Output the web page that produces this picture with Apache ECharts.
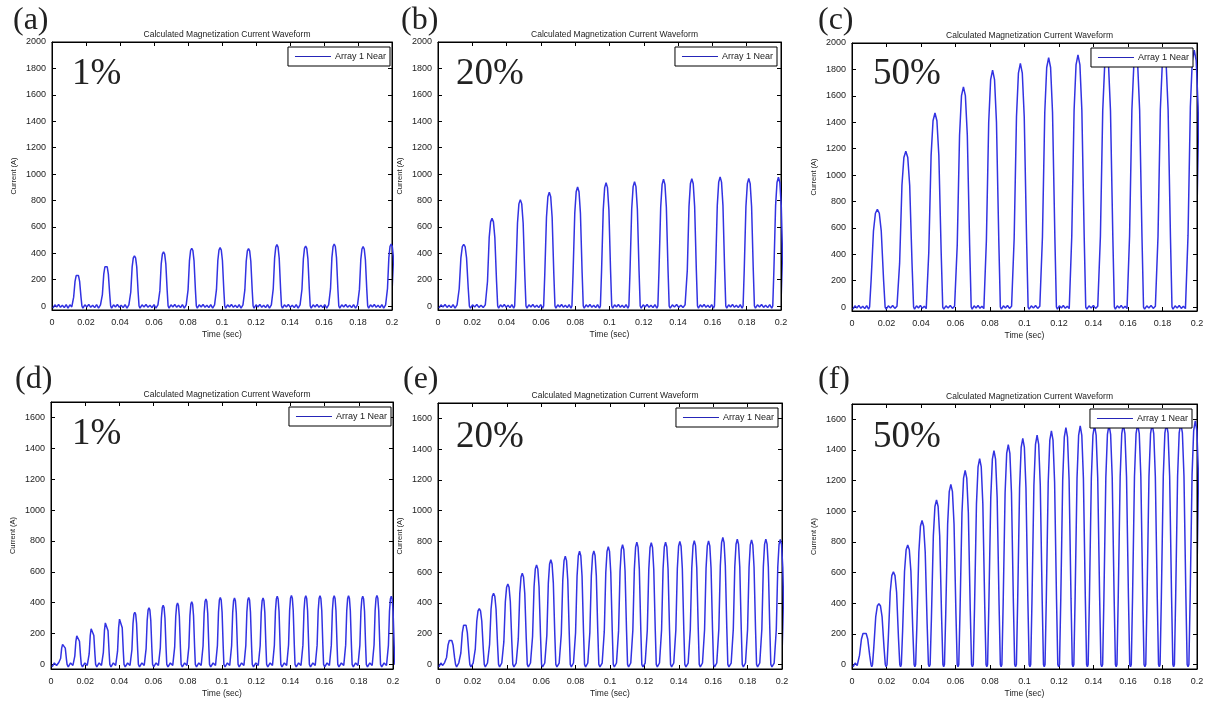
<!DOCTYPE html>
<html><head><meta charset="utf-8">
<script src="https://cdn.jsdelivr.net/npm/echarts@6/dist/echarts.min.js"></script>
<style>html,body{margin:0;padding:0;background:#fff}#c{width:1207px;height:704px}</style>
</head><body><div id="c"></div>
<script>
// ---------- data ----------
const xTickValues = [0,0.02,0.04,0.06,0.08,0.1,0.12,0.14,0.16,0.18,0.2];
const yTicksTop = [0,200,400,600,800,1000,1200,1400,1600,1800,2000];
const yTicksBottom = [0,200,400,600,800,1000,1200,1400,1600];
const panelLetters = ['(a)','(b)','(c)','(d)','(e)','(f)'];
const dutyLabels = ['1%','20%','50%','1%','20%','50%'];
const chartTitle = 'Calculated Magnetization Current Waveform';
const seriesName = 'Array 1 Near';
const xName = 'Time (sec)';
const yName = 'Current (A)';

// pulse peak times (s) and peak currents (A)
const timesA = [0.0149,0.0318,0.0485,0.0656,0.0822,0.0989,0.1156,0.1323,0.1492,0.1660,0.1830,0.1995];
const peaksA = [240,310,380,410,438,442,435,465,455,470,450,470];
const timesB = [0.0150,0.0315,0.0480,0.0649,0.0814,0.0980,0.1146,0.1315,0.1480,0.1645,0.1812,0.1985];
const peaksB = [468,664,806,862,902,934,942,960,965,978,966,975];
const timesC = [0.0147,0.0312,0.0481,0.0646,0.0815,0.0976,0.1140,0.1310,0.1476,0.1645,0.1810,0.1984];
const peaksC = [740,1180,1470,1668,1795,1845,1890,1910,1905,1910,1915,1945];
const timesBottom = [0.0073,0.0156,0.0240,0.0323,0.0406,0.0490,0.0573,0.0656,0.0740,0.0823,0.0906,0.0990,
                     0.1073,0.1156,0.1240,0.1323,0.1406,0.1490,0.1573,0.1656,0.1740,0.1823,0.1906,0.1990];
const peaksD = [135,192,240,280,305,338,366,383,398,405,424,434,430,434,430,441,447,445,445,445,445,441,447,441];
const peaksE = [162,265,362,462,522,592,647,680,703,736,738,766,778,794,792,795,800,805,803,825,814,810,815,812];
const peaksF = [210,397,604,780,939,1074,1175,1267,1343,1396,1435,1476,1497,1525,1545,1557,1560,1565,1568,1570,1570,1572,1575,1590];

// pulse half-widths at the base (s), read per panel
const halfWidths = [0.0027,0.0033,0.0045,0.0021,0.0029,0.0037];
// normalised pulse outline read from a single pulse (offset in half-widths, fraction of peak)
const profileX = [-1,-0.8,-0.5,-0.25,0,0.25,0.5,0.8,1];
const profileY = [0,0.28,0.78,0.96,1,0.96,0.78,0.28,0];
// baseline ripple between pulses (A)
const ripple = [-16,9,-7,12,-10,6,-12,10];

// ---------- build series ----------
function buildWave(times, peaks, hw){
  const pts = [];
  let prevEnd = 0;
  times.forEach((t,i)=>{
    const start = t - hw;
    const gap = start - prevEnd;
    const n = Math.max(1, Math.floor(gap/0.0011));
    for(let k=0;k<n;k++){ pts.push([prevEnd + gap*(k+0.5)/n, ripple[k % ripple.length]]); }
    for(let k=0;k<profileX.length;k++){ pts.push([t+profileX[k]*hw, peaks[i]*profileY[k]]); }
    prevEnd = t + hw;
  });
  pts.push([0.21,0]);
  return pts;
}
const waves = [
  buildWave(timesA,peaksA,halfWidths[0]),
  buildWave(timesB,peaksB,halfWidths[1]),
  buildWave(timesC,peaksC,halfWidths[2]),
  buildWave(timesBottom,peaksD,halfWidths[3]),
  buildWave(timesBottom,peaksE,halfWidths[4]),
  buildWave(timesBottom,peaksF,halfWidths[5])
];

// ---------- layout ----------
const grids = [
  {left:52, top:42, width:340, height:268},
  {left:438,top:42, width:343, height:268},
  {left:852,top:43, width:345, height:268},
  {left:51, top:402,width:342, height:267},
  {left:438,top:403,width:344, height:266},
  {left:852,top:404,width:345, height:265}
];
const legendRight = [817,430,14,816,429,15];
const letterPos = [[13,5],[401,5],[818,5],[15,364],[403,364],[818,364]];
const dutyPos = [[72,56],[456,56],[873,56],[72,416],[456,419],[873,419]];

const FONT = '"Liberation Sans", Arial, sans-serif';
const SERIF = '"Liberation Serif", "Times New Roman", serif';
const LINE = '#3232e2';

const option = {
  animation:false,
  backgroundColor:'#fff',
  title:[], grid:[], xAxis:[], yAxis:[], series:[], legend:[], graphic:[]
};

grids.forEach((g,i)=>{
  const top = i<3;
  const yTicks = top ? yTicksTop : yTicksBottom;
  const yMax = top ? 2000 : 1700;
  option.grid.push({left:g.left, top:g.top, width:g.width, height:g.height, show:true,
    borderColor:'#000', borderWidth:1, backgroundColor:'#fff'});
  option.title.push({text:chartTitle, left:g.left+g.width/2, top:g.top-17, textAlign:'center',
    textStyle:{fontFamily:FONT, fontSize:8.5, fontWeight:'normal', color:'#222'}});
  const tickCommon = {inside:true, length:4, lineStyle:{color:'#000', width:1}};
  option.xAxis.push({type:'value', gridIndex:i, min:0, max:0.2, interval:0.02, position:'bottom',
    name:xName, nameLocation:'middle', nameGap:20,
    nameTextStyle:{fontFamily:FONT, fontSize:8.5, color:'#222'},
    axisLine:{onZero:false, lineStyle:{color:'#000', width:1}},
    axisTick:Object.assign({customValues:xTickValues}, tickCommon),
    axisLabel:{customValues:xTickValues, fontFamily:FONT, fontSize:9, color:'#222', margin:8,
      formatter:v=>String(Math.round(v*100)/100)},
    splitLine:{show:false}});
  option.xAxis.push({type:'value', gridIndex:i, min:0, max:0.2, interval:0.02, position:'top',
    axisLine:{onZero:false, lineStyle:{color:'#000'}},
    axisTick:Object.assign({customValues:xTickValues}, tickCommon),
    axisLabel:{show:false}, splitLine:{show:false}});
  option.yAxis.push({type:'value', gridIndex:i, min:-30, max:yMax, position:'left',
    name:yName, nameLocation:'middle', nameGap:34, nameRotate:90,
    nameTextStyle:{fontFamily:FONT, fontSize:7.5, color:'#222'},
    axisLine:{show:true, onZero:false, lineStyle:{color:'#000', width:1}},
    axisTick:Object.assign({show:true, customValues:yTicks}, tickCommon),
    axisLabel:{customValues:yTicks, fontFamily:FONT, fontSize:9, color:'#222', margin:6,
      formatter:v=>String(v)},
    splitLine:{show:false}});
  option.yAxis.push({type:'value', gridIndex:i, min:-30, max:yMax, position:'right',
    axisLine:{show:true, onZero:false, lineStyle:{color:'#000'}},
    axisTick:Object.assign({show:true, customValues:yTicks}, tickCommon),
    axisLabel:{show:false}, splitLine:{show:false}});
  option.series.push({type:'line', name:seriesName, xAxisIndex:2*i, yAxisIndex:2*i,
    data:waves[i], symbol:'none', showSymbol:false, clip:true, z:2,
    lineStyle:{color:LINE, width:1.5}, itemStyle:{color:LINE}});
  option.legend.push({data:[{name:seriesName, icon:'rect', itemStyle:{color:'#2525b8'}}],
    right:legendRight[i], top:g.top+5, orient:'horizontal',
    itemWidth:36, itemHeight:1.2, itemGap:4, padding:[5,4,5,7],
    borderColor:'#000', borderWidth:1, backgroundColor:'#fff', borderRadius:0,
    selectedMode:false, z:10,
    textStyle:{fontFamily:FONT, fontSize:9, color:'#222', padding:[0,0,0,-1]}});
  option.graphic.push({type:'text', left:letterPos[i][0], top:letterPos[i][1], z:20,
    style:{text:panelLetters[i], font:'32px '+SERIF, fill:'#222'}});
  option.graphic.push({type:'text', left:dutyPos[i][0], top:dutyPos[i][1], z:20,
    style:{text:dutyLabels[i], font:'37px '+SERIF, fill:'#222'}});
});

const chart = echarts.init(document.getElementById('c'), null, {renderer:'canvas'});
chart.setOption(option);
</script>
</body></html>
